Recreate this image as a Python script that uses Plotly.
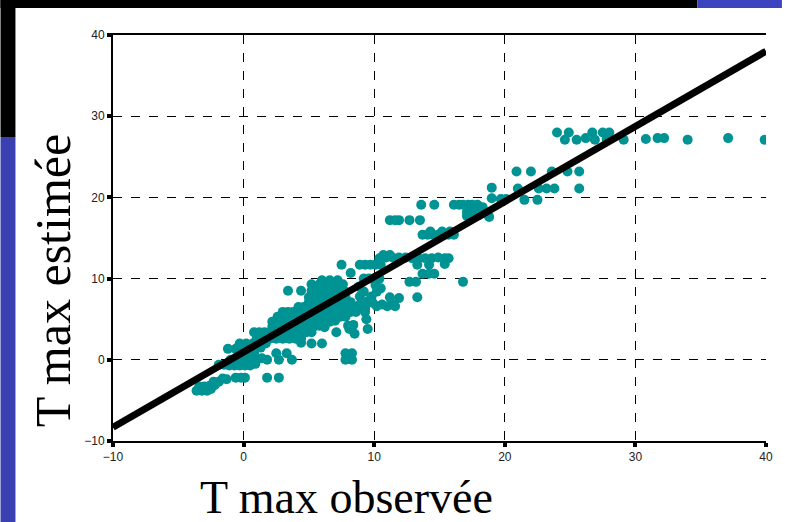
import plotly.graph_objects as go

# ---- data ----
# observed / estimated T max, grouped by region of the cloud
pts_low = [
    (-3.6, -3.8), (-3.2, -3.8), (-2.8, -3.8), (-2.5, -3.6), (-3.4, -3.3), (-3.0, -3.3),
    (-2.6, -3.2), (-2.2, -3.1), (-2.3, -2.7), (-1.9, -2.7), (-1.6, -2.3), (-1.3, -2.4),
    (-0.6, -2.2), (-0.2, -2.2), (0.1, -2.2), (1.8, -2.2), (2.7, -2.2),
    (-1.9, -0.6), (-1.5, -0.6), (-1.1, -0.7), (-0.7, -0.7), (-0.3, -0.7), (0.1, -0.7),
    (0.5, -0.7), (0.9, -0.5),
    (-1.0, 0.0), (-0.6, 0.0), (-0.2, 0.0), (0.2, 0.0), (0.6, 0.0), (1.0, 0.0), (1.4, 0.2),
    (1.8, 0.0), (2.7, 0.0), (3.7, 0.0),
    (-0.4, 0.6), (0.0, 0.6), (0.4, 0.6), (0.8, 0.8), (2.5, 0.8), (3.3, 0.8),
    (7.8, 0.0), (8.3, 0.0), (7.8, 0.8), (8.3, 0.8),
    (-1.2, 1.35), (-0.6, 1.35), (-0.1, 1.4), (0.4, 1.4), (0.9, 1.4), (1.3, 1.5),
]
pts_mid = [
    (-0.3, 2.0), (0.2, 2.0), (0.7, 2.0), (1.2, 2.0), (1.7, 2.0), (4.4, 2.1), (5.2, 2.0), (6.0, 2.0),
    (1.0, 2.6), (1.5, 2.6), (2.0, 2.6), (2.5, 2.6), (3.0, 2.6), (3.5, 2.6), (4.0, 2.6), (4.4, 2.6),
    (0.8, 3.4), (1.2, 3.4), (1.6, 3.4), (2.0, 3.4), (2.4, 3.4), (2.8, 3.4), (3.2, 3.4), (3.6, 3.4),
    (4.0, 3.4), (4.4, 3.4), (4.8, 3.4), (5.2, 3.4), (7.1, 3.4), (8.5, 3.2), (9.5, 3.8), (6.2, 4.0),
    (8.1, 3.8),
    (2.2, 4.1), (2.6, 4.1), (3.0, 4.1), (3.4, 4.1), (3.8, 4.1), (4.2, 4.1), (4.6, 4.1), (5.0, 4.1),
    (5.4, 4.1), (5.8, 4.2), (8.0, 4.2), (8.4, 4.3),
    (2.2, 4.7), (2.6, 4.7), (3.0, 4.7), (3.4, 4.7), (3.8, 4.7), (4.2, 4.7), (4.6, 4.7), (5.0, 4.7),
    (5.4, 4.7), (5.8, 4.7), (6.2, 4.7), (6.6, 4.7), (7.0, 4.8),
    (2.6, 5.3), (3.0, 5.3), (3.4, 5.3), (3.8, 5.3), (4.2, 5.3), (4.6, 5.3), (5.0, 5.3), (5.4, 5.3),
    (5.8, 5.3), (6.2, 5.3), (6.6, 5.3), (7.0, 5.3), (7.4, 5.3), (7.8, 5.3), (9.4, 5.0),
    (3.0, 5.9), (3.4, 5.9), (3.8, 5.9), (4.2, 5.9), (4.6, 5.9), (5.0, 5.9), (5.4, 5.9), (5.8, 5.9),
    (6.2, 5.9), (6.6, 5.9), (7.0, 5.9), (7.4, 5.9), (7.8, 5.9), (8.2, 5.9), (8.6, 5.9), (9.3, 5.9),
    (4.2, 6.5), (4.6, 6.5), (5.0, 6.5), (5.4, 6.5), (5.8, 6.5), (6.2, 6.5), (6.6, 6.5), (7.0, 6.5),
    (7.4, 6.5), (7.8, 6.5), (8.2, 6.5), (8.6, 6.5), (9.3, 6.5),
    (5.0, 7.1), (5.4, 7.1), (5.8, 7.1), (6.2, 7.1), (6.6, 7.1), (7.0, 7.1), (7.4, 7.1), (7.8, 7.1),
    (8.2, 7.1),
    (5.0, 7.7), (5.4, 7.7), (5.8, 7.7), (6.2, 7.7), (6.6, 7.7), (7.0, 7.7), (7.4, 7.7), (7.8, 7.7),
    (3.4, 8.5), (4.4, 8.5), (5.2, 8.5), (5.7, 8.5), (6.2, 8.5), (6.7, 8.5), (7.2, 8.5), (7.7, 8.5),
    (5.2, 9.3), (5.8, 9.3), (6.4, 9.3), (7.0, 9.3), (7.6, 9.3),
    (6.0, 9.8), (6.6, 9.8), (7.2, 9.8),
]
pts_upper = [
    (7.5, 11.7), (8.2, 10.7), (8.9, 11.7), (9.3, 11.7), (9.7, 11.7), (10.1, 11.7), (10.5, 11.7),
    (9.2, 10.0), (9.6, 10.0), (10.0, 10.0), (10.4, 10.0),
    (10.1, 9.2), (10.5, 8.8), (10.2, 8.4), (8.8, 9.0), (9.2, 8.4), (8.9, 7.8), (9.5, 7.2),
    (8.9, 6.8), (9.9, 7.0),
    (9.8, 7.8), (10.6, 6.8), (11.4, 6.8), (11.9, 7.6), (9.3, 6.2), (10.2, 6.6), (11.0, 6.6),
    (11.6, 6.6), (11.2, 7.7), (13.3, 7.7),
    (10.4, 12.5), (10.9, 12.6), (11.4, 12.6), (11.9, 12.6), (12.4, 12.6), (12.9, 12.5),
    (13.4, 12.5), (13.9, 12.5), (14.4, 12.5), (14.9, 12.6), (15.4, 12.5), (15.7, 12.5),
    (10.7, 12.9), (11.2, 12.9),
    (13.3, 11.7), (14.2, 11.7), (15.4, 11.8),
    (13.7, 10.6), (14.2, 10.6), (14.6, 10.6),
    (12.7, 9.6), (13.2, 9.6), (16.8, 9.6),
    (13.7, 15.4), (14.1, 15.4), (14.5, 15.4), (14.9, 15.4), (15.3, 15.4), (15.7, 15.4),
    (16.1, 15.4), (14.3, 15.8), (15.2, 15.8), (15.8, 15.8),
    (11.2, 17.2), (11.6, 17.2), (11.9, 17.2), (12.7, 17.2), (13.5, 17.2),
    (13.6, 19.1), (14.6, 19.1), (16.1, 19.1), (16.5, 19.1), (16.8, 19.1), (17.2, 19.1),
    (17.5, 19.1), (17.9, 19.1),
    (17.1, 18.2), (17.7, 18.2), (18.0, 18.5), (17.1, 17.7), (17.5, 17.6), (18.0, 17.8),
    (18.8, 17.6), (18.2, 18.3), (18.3, 18.8), (18.6, 18.0),
    (19.0, 19.9), (19.0, 21.2),
]
pts_high = [
    (19.7, 19.8), (20.1, 19.8), (21.5, 19.7), (22.5, 19.7),
    (21.0, 21.1), (22.6, 21.1), (23.2, 21.1), (23.8, 21.1), (25.7, 21.1),
    (20.9, 23.2), (22.0, 23.2), (23.6, 23.2), (24.8, 23.2), (25.7, 23.2),
    (24.0, 28.0), (24.9, 28.0), (26.7, 28.0), (27.5, 28.0), (28.0, 28.0),
    (24.6, 27.1), (25.5, 27.1), (26.2, 27.3), (26.9, 27.1), (27.8, 27.2), (29.1, 27.1),
    (30.8, 27.2), (31.7, 27.3), (32.2, 27.3), (34.0, 27.1), (37.1, 27.3), (39.9, 27.1),
]

# regression line end points
line_x = [-10, 40]
line_y = [-8.3, 38.0]

tick_vals = [-10, 0, 10, 20, 30, 40]
x_title = "T max observée"
y_title = "T max estimée"

all_pts = pts_low + pts_mid + pts_upper + pts_high
obs = [p[0] for p in all_pts]
est = [p[1] for p in all_pts]

fig = go.Figure()
fig.add_trace(go.Scatter(x=obs, y=est, mode="markers",
                         marker=dict(color="#009393", size=10, line=dict(width=0))))
fig.add_trace(go.Scatter(x=line_x, y=line_y, mode="lines",
                         line=dict(color="black", width=7)))

axis_common = dict(
    range=[-10, 40], tickvals=tick_vals, showgrid=True, gridcolor="black",
    griddash="dash", gridwidth=1, zeroline=False, showline=True,
    linecolor="black", linewidth=2, ticks="outside", ticklen=4, tickwidth=4,
    tickcolor="black", tickfont=dict(family="Liberation Sans", size=12, color="#222"),
)

fig.update_layout(
    width=785, height=522,
    margin=dict(l=113, r=16, t=35, b=81),
    paper_bgcolor="white", plot_bgcolor="white", showlegend=False,
    xaxis=dict(**axis_common, mirror=True),
    yaxis=dict(**axis_common),
)

# slide decorations (paper coords: px -> (px-113)/656, py -> (441-py)/406)
def px2x(px):
    return (px - 113) / 656

def py2y(py):
    return (441 - py) / 406

shapes = [
    dict(type="rect", xref="paper", yref="paper", x0=px2x(0), x1=px2x(700),
         y0=py2y(8), y1=py2y(0), fillcolor="black", line=dict(width=0)),
    dict(type="rect", xref="paper", yref="paper", x0=px2x(700), x1=px2x(785),
         y0=py2y(8), y1=py2y(0), fillcolor="#3d44bf", line=dict(width=0)),
    dict(type="rect", xref="paper", yref="paper", x0=px2x(0), x1=px2x(15),
         y0=py2y(137), y1=py2y(0), fillcolor="black", line=dict(width=0)),
    dict(type="rect", xref="paper", yref="paper", x0=px2x(0), x1=px2x(15),
         y0=py2y(522), y1=py2y(137), fillcolor="#3a3fb2", line=dict(width=0)),
]
fig.update_layout(shapes=shapes)

fig.add_annotation(text=x_title, xref="paper", yref="paper", x=px2x(348), y=py2y(498),
                   showarrow=False, xanchor="center", yanchor="middle",
                   font=dict(family="Liberation Serif", size=46, color="black"))
fig.add_annotation(text=y_title, xref="paper", yref="paper", x=px2x(53), y=py2y(281),
                   showarrow=False, xanchor="center", yanchor="middle", textangle=-90,
                   font=dict(family="Liberation Serif", size=50, color="black"))

fig.write_html("out.html")
